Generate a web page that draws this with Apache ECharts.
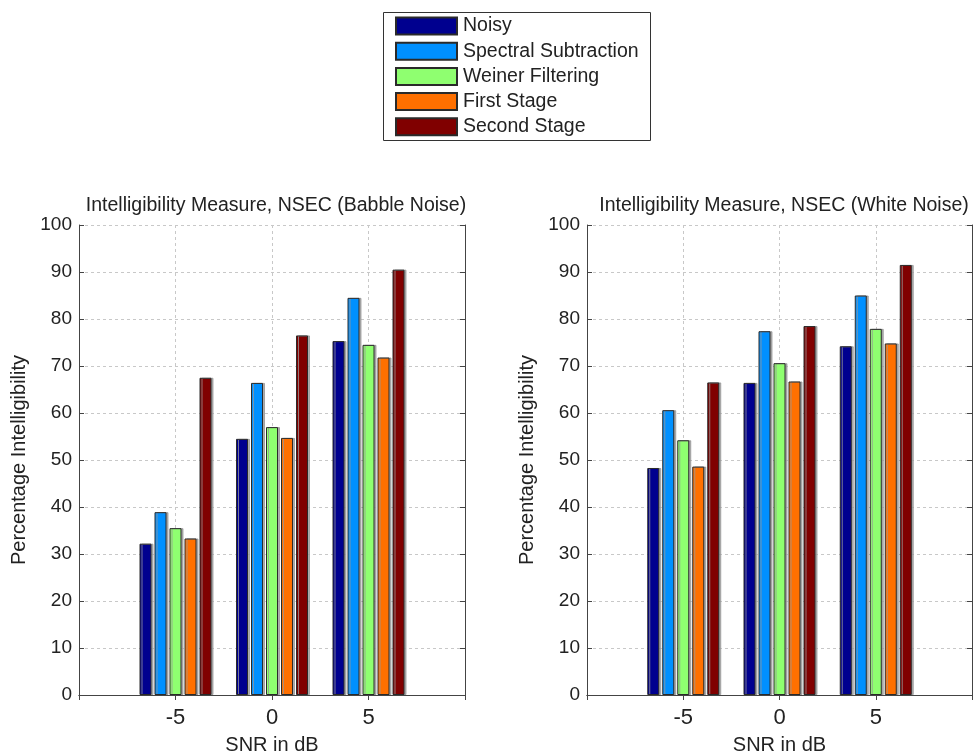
<!DOCTYPE html>
<html>
<head>
<meta charset="utf-8">
<script src="https://cdn.jsdelivr.net/npm/echarts@6/dist/echarts.min.js"></script>
<style>html,body{margin:0;padding:0;background:#fff}#c{width:973px;height:756px}</style>
</head>
<body>
<div id="c"></div>
<script>
// Data
var snrCategories = ['-10', '-5', '0', '5', '10'];
var seriesNames = ['Noisy', 'Spectral Subtraction', 'Weiner Filtering', 'First Stage', 'Second Stage'];
var seriesColors = ['#00008F', '#0090FF', '#8FFF70', '#FF7000', '#800000'];
// Babble noise (left), values at SNR -5, 0, 5
var babbleNoisy = [32.2, 54.5, 75.3];
var babbleSpectral = [38.9, 66.4, 84.5];
var babbleWeiner = [35.5, 57.0, 74.5];
var babbleFirst = [33.3, 54.7, 71.8];
var babbleSecond = [67.5, 76.5, 90.5];
// White noise (right)
var whiteNoisy = [48.3, 66.4, 74.2];
var whiteSpectral = [60.6, 77.4, 85.0];
var whiteWeiner = [54.2, 70.6, 77.9];
var whiteFirst = [48.6, 66.7, 74.8];
var whiteSecond = [66.5, 78.5, 91.5];
var titles = ['Intelligibility Measure, NSEC (Babble Noise)', 'Intelligibility Measure, NSEC (White Noise)'];
var xLabel = 'SNR in dB';
var yLabel = 'Percentage Intelligibility';

var FONT = 'Liberation Sans, Arial, sans-serif';
var pad = function (arr) { return [null].concat(arr).concat([null]); };
var babble = [babbleNoisy, babbleSpectral, babbleWeiner, babbleFirst, babbleSecond];
var white = [whiteNoisy, whiteSpectral, whiteWeiner, whiteFirst, whiteSecond];

var chart = echarts.init(document.getElementById('c'));
var grids = [
  { left: 79, top: 225, width: 386, height: 470, outerBoundsMode: 'none', containLabel: false },
  { left: 587, top: 225, width: 385, height: 470, outerBoundsMode: 'none', containLabel: false }
];
var xAxes = [], yAxes = [], series = [];
[0, 1].forEach(function (g) {
  xAxes.push({
    type: 'category', gridIndex: g, data: snrCategories, boundaryGap: false,
    name: xLabel, nameLocation: 'middle', nameGap: 40,
    nameTextStyle: { fontFamily: FONT, fontSize: 20, color: '#222' },
    axisLine: { lineStyle: { color: '#444', width: 1 } },
    axisTick: { inside: true, length: 5, lineStyle: { color: '#444' } },
    axisLabel: { fontFamily: FONT, fontSize: 22, color: '#222', margin: 12,
      formatter: function (v) { return (v === '-10' || v === '10') ? '' : v; } },
    splitLine: { show: true, lineStyle: { color: '#c8c8c8', type: [3, 3], width: 1 } }
  });
  xAxes.push({
    type: 'category', gridIndex: g, data: snrCategories, boundaryGap: false, position: 'top',
    axisLine: { lineStyle: { color: '#444', width: 1 } },
    axisTick: { inside: true, length: 5, lineStyle: { color: '#444' } },
    axisLabel: { show: false }, splitLine: { show: false }
  });
  yAxes.push({
    type: 'value', gridIndex: g, min: 0, max: 100, interval: 10,
    name: yLabel, nameLocation: 'middle', nameGap: 50, nameRotate: 90,
    nameTextStyle: { fontFamily: FONT, fontSize: 20, color: '#222' },
    axisLine: { show: true, lineStyle: { color: '#444', width: 1 } },
    axisTick: { show: true, inside: true, length: 5, lineStyle: { color: '#444' } },
    axisLabel: { fontFamily: FONT, fontSize: 19, color: '#222', margin: 7 },
    splitLine: { show: true, lineStyle: { color: '#c8c8c8', type: [3, 3], width: 1 } }
  });
  yAxes.push({
    type: 'value', gridIndex: g, min: 0, max: 100, interval: 10, position: 'right',
    axisLine: { show: true, lineStyle: { color: '#444', width: 1 } },
    axisTick: { show: true, inside: true, length: 5, lineStyle: { color: '#444' } },
    axisLabel: { show: false }, splitLine: { show: false }
  });
  var data = g === 0 ? babble : white;
  data.forEach(function (vals, i) {
    series.push({
      type: 'bar', name: seriesNames[i], xAxisIndex: g * 2, yAxisIndex: g * 2,
      data: pad(vals), barWidth: 12, barGap: '25%',
      itemStyle: { color: seriesColors[i], borderColor: '#2a2a2a', borderWidth: 1,
        shadowColor: 'rgba(150,150,150,0.8)', shadowOffsetX: 2, shadowBlur: 0 },
      emphasis: { disabled: true }, animation: false
    });
  });
});

chart.setOption({
  animation: false,
  backgroundColor: '#fff',
  grid: grids,
  xAxis: xAxes,
  yAxis: yAxes,
  series: series,
  title: [
    { text: titles[0], left: 271, top: 191, textAlign: 'center',
      textStyle: { fontFamily: FONT, fontSize: 19.5, fontWeight: 'normal', color: '#222' } },
    { text: titles[1], left: 779, top: 191, textAlign: 'center',
      textStyle: { fontFamily: FONT, fontSize: 19.5, fontWeight: 'normal', color: '#222' } }
  ],
  legend: {
    data: seriesNames, orient: 'vertical', left: 395, top: 16, padding: 0,
    itemWidth: 61, itemHeight: 17, itemGap: 5.2, icon: 'rect',
    textStyle: { fontFamily: FONT, fontSize: 19.5, lineHeight: 20, color: '#222', padding: [0, 0, 0, 1] },
    selectedMode: false
  },
  graphic: [
    { type: 'rect', shape: { x: 383.5, y: 12.5, width: 267, height: 128 },
      style: { fill: 'none', stroke: '#333', lineWidth: 1 }, silent: true }
  ]
});
</script>
</body>
</html>
